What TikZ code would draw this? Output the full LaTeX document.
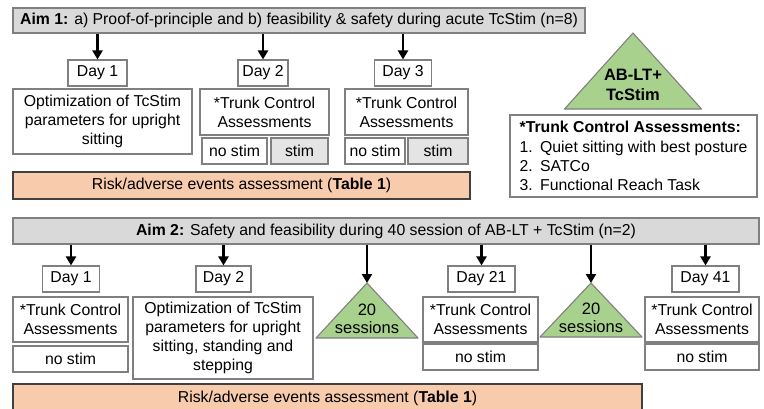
\documentclass[tikz,border=0pt]{standalone}
\usepackage{fontspec}
\setmainfont{Liberation Sans}
\usetikzlibrary{arrows.meta}
\definecolor{bargray}{HTML}{D9D9D9}
\definecolor{peach}{HTML}{F8CBAD}
\definecolor{leaf}{HTML}{A9D18E}
\definecolor{edge}{HTML}{808080}
\tikzset{box/.style={draw=edge,fill=white,line width=1.1pt,align=center,font=\fontsize{15.8}{19.2}\selectfont,inner sep=0pt,minimum height=26pt},aimbar/.style={box,fill=bargray},stimbox/.style={box,fill=bargray!70},riskbar/.style={box,draw=black!75,fill=peach},tri/.style={draw=edge,fill=leaf,line width=1.1pt,line join=round},tritext/.style={align=center,font=\fontsize{16.5}{18.5}\selectfont,inner sep=0pt},arr/.style={-{Triangle[length=9pt,width=10pt]},line width=2.6pt}}

\begin{document}
\begin{tikzpicture}[x=1pt,y=-1pt]
\useasboundingbox (0,0) rectangle (764,408);
% Aim 1
\node[aimbar,minimum width=572pt,minimum height=25pt] (aim1) at (299,20.5) {\textbf{Aim 1:} a) Proof-of-principle and b) feasibility \& safety during acute TcStim (n=8)};
\node[box,minimum width=59pt] (d1a) at (97.5,73) {Day 1};
\node[box,minimum width=50pt] (d2a) at (263,73) {Day 2};
\node[box,minimum width=57pt] (d3a) at (403,73) {Day 3};
\node[box,minimum width=179pt,minimum height=65pt] (opta) at (102.5,121.5) {Optimization of TcStim\\parameters for upright\\sitting};
\node[box,minimum width=129pt,minimum height=46pt] (tc2a) at (264.5,112) {*Trunk Control\\Assessments};
\node[box,minimum width=65pt] (ns2a) at (234.5,151) {no stim};
\node[stimbox,minimum width=57pt] (st2a) at (299.5,151) {stim};
\node[box,minimum width=123pt,minimum height=46pt] (tc3a) at (406.5,112) {*Trunk Control\\Assessments};
\node[box,minimum width=60pt] (ns3a) at (375,151) {no stim};
\node[stimbox,minimum width=60pt] (st3a) at (438,151) {stim};
\node[riskbar,minimum width=457pt,minimum height=27pt] (riska) at (241.5,185.5) {Risk/adverse events assessment (\textbf{Table 1})};
\draw[arr] (aim1.south -| d1a.north) -- (d1a.north);
\draw[arr] (aim1.south -| d2a.north) -- (d2a.north);
\draw[arr] (aim1.south -| d3a.north) -- (d3a.north);
% legend
\coordinate (tabl) at (633,33);
\draw[tri] (tabl) -- ++(68.5,76) -- ++(-137,0) -- cycle;
\node[tritext,font=\fontsize{16.5}{20}\selectfont\bfseries] (tablt) at (633,85) {AB-LT+\\TcStim};
\node[box,minimum width=247pt,minimum height=82pt,align=left,inner sep=4pt] (legend) at (633.5,156) {\textbf{*Trunk Control Assessments:}\\\makebox[1.3em][l]{1.}Quiet sitting with best posture\\\makebox[1.3em][l]{2.}SATCo\\\makebox[1.3em][l]{3.}Functional Reach Task};
% Aim 2
\node[aimbar,minimum width=746pt] (aim2) at (386,231) {\textbf{Aim 2:} Safety and feasibility during 40 session of AB-LT + TcStim (n=2)};
\node[box,minimum width=57pt] (d1b) at (71,279) {Day 1};
\node[box,minimum width=115pt,minimum height=45pt] (tc1b) at (70.5,319.5) {*Trunk Control\\Assessments};
\node[box,minimum width=115pt] (ns1b) at (70.5,359) {no stim};
\node[box,minimum width=55pt] (d2b) at (223.5,279) {Day 2};
\node[box,minimum width=180pt,minimum height=82pt] (optb) at (223,338) {Optimization of TcStim\\parameters for upright\\sitting, standing and\\stepping};
\coordinate (t1) at (367,283);
\draw[tri] (t1) -- ++(51,55) -- ++(-102,0) -- cycle;
\node[tritext] (t1t) at (367,319) {20\\sessions};
\node[box,minimum width=67pt] (d21b) at (481.5,279) {Day 21};
\node[box,minimum width=115pt,minimum height=45pt] (tc21b) at (480.5,319.5) {*Trunk Control\\Assessments};
\node[box,minimum width=115pt] (ns21b) at (480.5,357) {no stim};
\coordinate (t2) at (591,283);
\draw[tri] (t2) -- ++(51,54) -- ++(-102,0) -- cycle;
\node[tritext] (t2t) at (591,318) {20\\sessions};
\node[box,minimum width=67pt] (d41b) at (705.5,279) {Day 41};
\node[box,minimum width=114pt,minimum height=45pt] (tc41b) at (702,319.5) {*Trunk Control\\Assessments};
\node[box,minimum width=114pt] (ns41b) at (702,357) {no stim};
\node[riskbar,minimum width=629pt,minimum height=28pt] (riskb) at (327.5,398) {Risk/adverse events assessment (\textbf{Table 1})};
\draw[arr] (aim2.south -| d1b.north) -- (d1b.north);
\draw[arr] (aim2.south -| d2b.north) -- (d2b.north);
\draw[arr] (aim2.south -| t1) -- (t1);
\draw[arr] (aim2.south -| d21b.north) -- (d21b.north);
\draw[arr] (aim2.south -| t2) -- (t2);
\draw[arr] (aim2.south -| d41b.north) -- (d41b.north);
\end{tikzpicture}
\end{document}
